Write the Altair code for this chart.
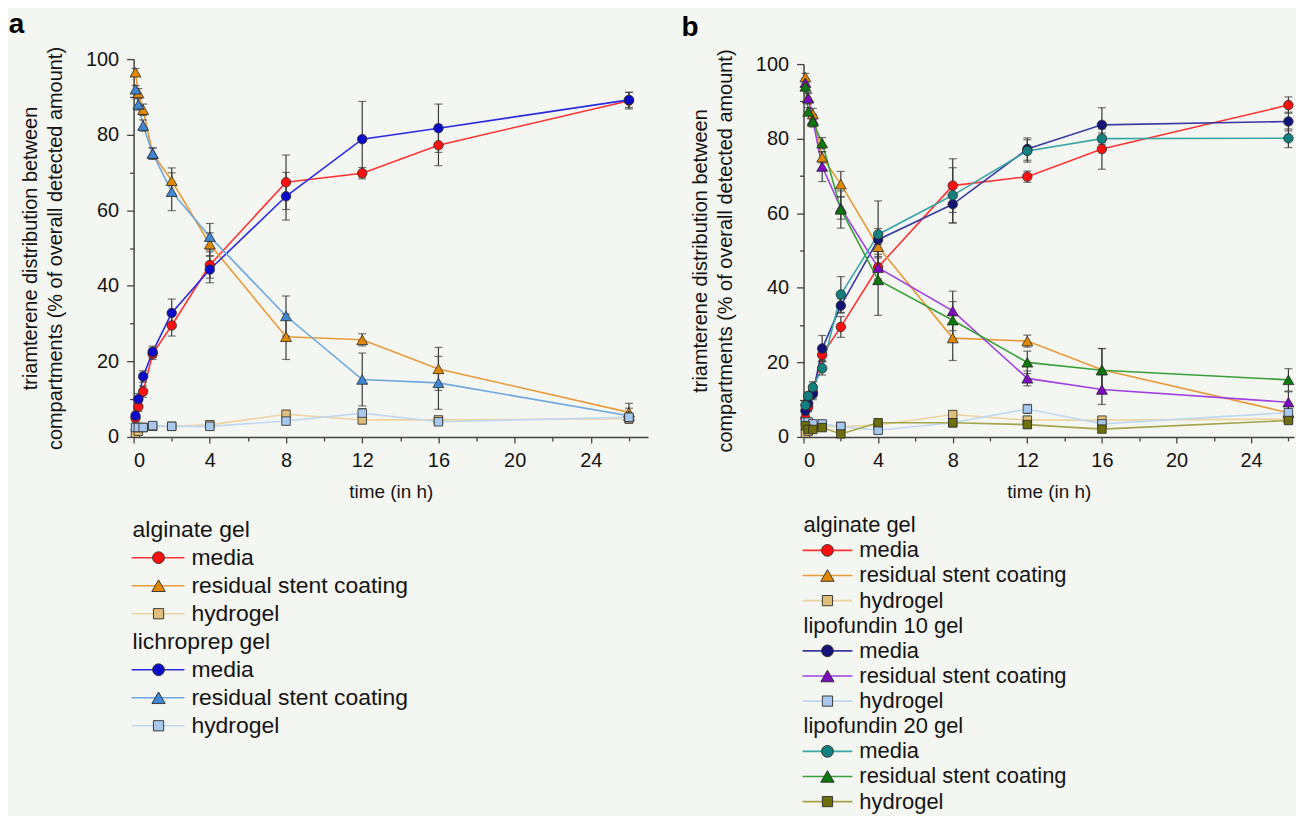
import altair as alt
import pandas as pd

FONT = "Liberation Sans"
BG = "#f4f6f1"
TXT = "#141414"

# ---------------- data ----------------
times = [0.1, 0.25, 0.5, 1, 2, 4, 8, 12, 16, 26]

# alginate gel (shown in both panels)
alg_media = [5.0, 8.0, 12.0, 22.0, 29.5, 45.5, 67.4, 69.8, 77.2, 89.0]
alg_media_err = [1.0, 1.2, 1.5, 1.5, 2.8, 3.5, 7.2, 1.5, 5.4, 2.2]
alg_resid = [96.5, 91.0, 86.6, 75.0, 67.8, 51.0, 26.5, 25.7, 18.0, 6.5]
alg_resid_err = [1.0, 1.2, 1.5, 1.5, 3.4, 3.0, 6.0, 1.6, 5.7, 2.4]
alg_hydro = [1.0, 1.5, 2.5, 2.8, 2.8, 3.2, 6.0, 4.5, 4.5, 4.8]
alg_hydro_err = [0.5, 0.5, 0.8, 0.8, 0.8, 1.0, 1.0, 1.0, 0.8, 0.8]

# lichroprep gel (panel a)
lich_media = [5.6, 10.0, 16.0, 22.5, 32.8, 44.3, 63.7, 78.8, 81.7, 89.2]
lich_media_err = [1.0, 1.5, 1.5, 1.5, 3.7, 3.5, 6.3, 10.0, 6.4, 2.0]
lich_resid = [92.0, 88.0, 82.4, 75.0, 64.9, 53.0, 32.0, 15.2, 14.3, 5.6]
lich_resid_err = [1.0, 1.5, 1.5, 1.5, 5.0, 3.5, 5.3, 7.0, 7.0, 2.0]
lich_hydro = [2.5, 2.5, 2.5, 3.0, 2.8, 2.8, 4.2, 6.3, 4.0, 5.2]
lich_hydro_err = [0.5, 0.5, 0.8, 0.8, 0.8, 1.0, 1.0, 1.2, 0.8, 0.8]

# lipofundin 10 gel (panel b)
l10_media = [7.0, 9.0, 11.5, 23.7, 35.2, 52.9, 62.4, 77.2, 83.7, 84.6]
l10_media_err = [1.0, 1.0, 1.5, 3.5, 2.0, 3.0, 5.0, 3.0, 4.6, 2.5]
l10_resid = [95.0, 90.8, 85.0, 72.5, 61.4, 45.4, 33.8, 15.7, 12.7, 9.3]
l10_resid_err = [1.0, 1.5, 1.5, 4.0, 3.0, 3.0, 5.3, 2.0, 4.0, 2.8]
l10_hydro = [4.0, 4.0, 3.5, 3.5, 2.8, 1.8, 3.8, 7.5, 3.5, 6.5]
l10_hydro_err = [0.8, 0.8, 0.8, 0.8, 0.8, 1.0, 1.0, 1.2, 0.8, 0.8]

# lipofundin 20 gel (panel b)
l20_media = [8.5, 11.0, 13.3, 18.4, 38.2, 54.3, 64.8, 76.7, 80.0, 80.1]
l20_media_err = [1.0, 1.0, 1.5, 1.8, 4.8, 9.0, 7.4, 3.0, 1.5, 2.5]
l20_resid = [94.0, 87.3, 84.6, 78.8, 61.0, 42.1, 31.3, 20.0, 17.9, 15.3]
l20_resid_err = [1.0, 1.0, 1.5, 1.5, 5.0, 9.5, 5.0, 3.0, 5.8, 3.0]
l20_hydro = [3.0, 2.0, 2.0, 2.5, 0.8, 3.8, 3.8, 3.3, 2.1, 4.4]
l20_hydro_err = [0.8, 0.8, 0.8, 0.8, 0.6, 1.0, 1.0, 1.0, 0.8, 0.8]

series_keys = ["alg_media", "alg_resid", "alg_hydro",
               "lich_media", "lich_resid", "lich_hydro",
               "l10_media", "l10_resid", "l10_hydro",
               "l20_media", "l20_resid", "l20_hydro"]
fill_colors = ["#ff1010", "#e08800", "#e0bf7a",
               "#0a0ac8", "#3f86d4", "#a8c8ee",
               "#141478", "#7d0ac0", "#a8c8ee",
               "#138080", "#0a780a", "#6e6e0a"]
line_colors = ["#ff3333", "#e89a3a", "#ecd3a2",
               "#2a2ae0", "#6ea6e0", "#c0d8f2",
               "#3a3aa0", "#a040e0", "#c0d8f2",
               "#3aa6a6", "#3aa03a", "#a4a44a"]
shapes = ["circle", "triangle-up", "square"] * 4
plot_sizes = [90, 120, 72] * 4
legend_sizes = [140, 180, 105] * 4

series_data = {
    "alg_media": (alg_media, alg_media_err), "alg_resid": (alg_resid, alg_resid_err),
    "alg_hydro": (alg_hydro, alg_hydro_err),
    "lich_media": (lich_media, lich_media_err), "lich_resid": (lich_resid, lich_resid_err),
    "lich_hydro": (lich_hydro, lich_hydro_err),
    "l10_media": (l10_media, l10_media_err), "l10_resid": (l10_resid, l10_resid_err),
    "l10_hydro": (l10_hydro, l10_hydro_err),
    "l20_media": (l20_media, l20_media_err), "l20_resid": (l20_resid, l20_resid_err),
    "l20_hydro": (l20_hydro, l20_hydro_err),
}

legend_a = [("header", "alginate gel", ""), ("entry", "media", "alg_media"),
            ("entry", "residual stent coating", "alg_resid"), ("entry", "hydrogel", "alg_hydro"),
            ("header", "lichroprep gel", ""), ("entry", "media", "lich_media"),
            ("entry", "residual stent coating", "lich_resid"), ("entry", "hydrogel", "lich_hydro")]
legend_b = [("header", "alginate gel", ""), ("entry", "media", "alg_media"),
            ("entry", "residual stent coating", "alg_resid"), ("entry", "hydrogel", "alg_hydro"),
            ("header", "lipofundin 10 gel", ""), ("entry", "media", "l10_media"),
            ("entry", "residual stent coating", "l10_resid"), ("entry", "hydrogel", "l10_hydro"),
            ("header", "lipofundin 20 gel", ""), ("entry", "media", "l20_media"),
            ("entry", "residual stent coating", "l20_resid"), ("entry", "hydrogel", "l20_hydro")]

y_title = ["triamterene distribution between", "compartments (% of overall detected amount)"]

# ---------------- scales ----------------
line_scale = alt.Scale(domain=series_keys, range=line_colors)
fill_scale = alt.Scale(domain=series_keys, range=fill_colors)
shape_scale = alt.Scale(domain=series_keys, range=shapes)


def make_df(keys):
    rows = []
    for k in keys:
        vals, errs = series_data[k]
        for t, v, e in zip(times, vals, errs):
            rows.append({"series": k, "t": t, "v": v,
                         "lo": max(v - e, 0.0), "hi": v + e})
    return pd.DataFrame(rows)


def panel(keys, xmax, width, height, ytop, label, toff, tdx):
    df = make_df(keys)
    xs = alt.Scale(domain=[0, xmax], nice=False, zero=False)
    ys = alt.Scale(domain=[0, 100], nice=False, zero=False, range=[height, ytop])
    x_main = alt.Axis(orient="bottom", values=[0, 4, 8, 12, 16, 20, 24], format="d",
                      title="time (in h)", grid=False, tickSize=6, tickWidth=1.3,
                      tickColor="#444", domainColor="#444", domainWidth=1.5,
                      labelFont=FONT, labelFontSize=20, labelColor=TXT, labelPadding=8,
                      titleFont=FONT, titleFontSize=19, titleFontWeight="normal",
                      titleColor=TXT, titlePadding=12)
    y_main = alt.Axis(orient="left", values=[0, 20, 40, 60, 80, 100], format="d",
                      title=y_title, grid=False, tickSize=7, tickWidth=1.3,
                      tickColor="#444", domainColor="#444", domainWidth=1.5,
                      labelFont=FONT, labelFontSize=20, labelColor=TXT, labelPadding=8,
                      titleFont=FONT, titleFontSize=20, titleFontWeight="normal",
                      titleColor=TXT, titlePadding=20, titleLineHeight=25)
    x_minor = alt.Axis(orient="bottom", values=[2, 6, 10, 14, 18, 22, 26], labels=False,
                       domain=False, grid=False, tickSize=4, tickWidth=1.3,
                       tickColor="#444", title=None)
    y_minor = alt.Axis(orient="left", values=[10, 30, 50, 70, 90], labels=False,
                       domain=False, grid=False, tickSize=4, tickWidth=1.3,
                       tickColor="#444", title=None)
    base = alt.Chart(df)
    lines = base.mark_line(strokeWidth=1.6).encode(
        x=alt.X("t:Q", scale=xs, axis=x_main),
        y=alt.Y("v:Q", scale=ys, axis=y_main),
        color=alt.Color("series:N", scale=line_scale, legend=None),
        detail="series:N",
        order="t:Q",
    )
    err = base.mark_rule(color="#3a3a3a", strokeWidth=1.2).encode(
        x=alt.X("t:Q", scale=xs, axis=x_minor),
        y=alt.Y("lo:Q", scale=ys, axis=y_minor),
        y2="hi:Q",
    )
    cap_lo = base.mark_tick(color="#3a3a3a", thickness=1.2, size=8, orient="horizontal").encode(
        x=alt.X("t:Q", scale=xs, axis=None), y=alt.Y("lo:Q", scale=ys, axis=None))
    cap_hi = base.mark_tick(color="#3a3a3a", thickness=1.2, size=8, orient="horizontal").encode(
        x=alt.X("t:Q", scale=xs, axis=None), y=alt.Y("hi:Q", scale=ys, axis=None))
    pts = base.mark_point(filled=True, stroke="#2a2a2a", strokeWidth=0.8, opacity=1).encode(
        x=alt.X("t:Q", scale=xs, axis=None),
        y=alt.Y("v:Q", scale=ys, axis=None),
        shape=alt.Shape("series:N", scale=shape_scale, legend=None),
        fill=alt.Fill("series:N", scale=fill_scale, legend=None),
        size=alt.Size("series:N", scale=alt.Scale(type="ordinal", domain=series_keys, range=plot_sizes),
                      legend=None),
    )
    return alt.layer(lines, err, cap_lo, cap_hi, pts).resolve_axis(
        x="independent", y="independent"
    ).resolve_scale(size="independent").properties(
        width=width, height=height,
        title=alt.TitleParams(text=label, anchor="start", frame="bounds", fontSize=28,
                              fontWeight="bold", font=FONT, color="#000", offset=toff, dx=tdx),
    )


def legend(entries, rowh, width, lx1, lx2, mx, tx, hx, fsize):
    ldf = pd.DataFrame([{"row": i, "kind": k, "label": lab, "series": s}
                        for i, (k, lab, s) in enumerate(entries)])
    n = len(entries)
    ysc = alt.Scale(domain=[-0.5, n - 0.5], reverse=True, nice=False, zero=False)
    base = alt.Chart(ldf)
    head = base.transform_filter("datum.kind == 'header'").mark_text(
        align="left", baseline="middle", font=FONT, fontSize=fsize, color=TXT
    ).encode(x=alt.value(hx), y=alt.Y("row:Q", scale=ysc, axis=None), text="label:N")
    ent = base.transform_filter("datum.kind == 'entry'")
    rule = ent.mark_rule(strokeWidth=1.6).encode(
        x=alt.value(lx1), x2=alt.value(lx2),
        y=alt.Y("row:Q", scale=ysc, axis=None),
        color=alt.Color("series:N", scale=line_scale, legend=None))
    mk = ent.mark_point(filled=True, stroke="#2a2a2a", strokeWidth=0.9, opacity=1).encode(
        x=alt.value(mx), y=alt.Y("row:Q", scale=ysc, axis=None),
        shape=alt.Shape("series:N", scale=shape_scale, legend=None),
        fill=alt.Fill("series:N", scale=fill_scale, legend=None),
        size=alt.Size("series:N", scale=alt.Scale(type="ordinal", domain=series_keys, range=legend_sizes),
                      legend=None))
    lab = ent.mark_text(align="left", baseline="middle", font=FONT, fontSize=fsize, color=TXT).encode(
        x=alt.value(tx), y=alt.Y("row:Q", scale=ysc, axis=None), text="label:N")
    return alt.layer(rule, mk, head, lab).properties(width=width, height=n * rowh)


keys_a = ["alg_media", "alg_resid", "alg_hydro", "lich_media", "lich_resid", "lich_hydro"]
keys_b = ["alg_media", "alg_resid", "alg_hydro", "l10_media", "l10_resid", "l10_hydro",
          "l20_media", "l20_resid", "l20_hydro"]

plot_a = panel(keys_a, 27, 516, 379, 0, "a", 7, -12)
plot_b = panel(keys_b, 26.3, 492, 379, 5, "b", 7, -9)
leg_a = legend(legend_a, 28.1, 300, -2, 51, 25, 58, -1, 23)
leg_b = legend(legend_b, 25.2, 300, -1, 49, 24, 56, 0, 22)

col_a = alt.vconcat(plot_a, leg_a, spacing=14).resolve_scale(size="independent")
col_b = alt.vconcat(plot_b, leg_b, spacing=11).resolve_scale(size="independent")

chart = alt.hconcat(col_a, col_b, spacing=33).resolve_scale(size="independent").properties(
    padding={"left": 0, "top": 2, "right": 0, "bottom": 0},
    background=BG,
).configure_view(stroke=None)

chart.save("out.html", embed_options={"renderer": "svg", "actions": False})
